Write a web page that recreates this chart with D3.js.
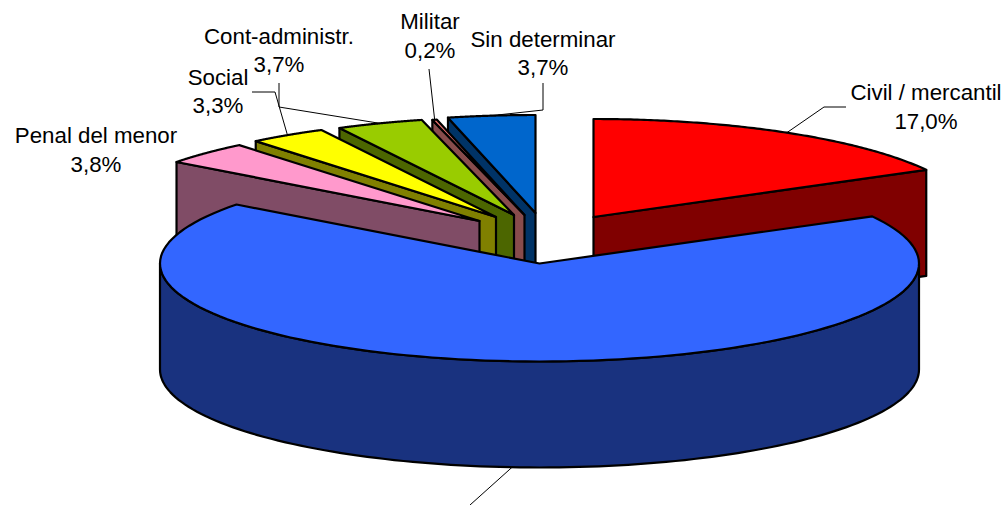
<!DOCTYPE html>
<html><head><meta charset="utf-8">
<style>html,body{margin:0;padding:0;background:#fff}svg{display:block}text{font-family:"Liberation Sans",Arial,sans-serif;font-size:22.3px;fill:#000;text-anchor:middle}</style>
<script src="https://cdn.jsdelivr.net/npm/d3@7"></script></head><body>
<script>
// Data (clockwise from 12 o'clock)
const categories = ["Civil / mercantil","Penal","Penal del menor","Social","Cont-administr.","Militar","Sin determinar"];
const values = [17.0,68.2,3.8,3.3,3.7,0.2,3.7];
const valueLabels = ["17,0%","68,2%","3,8%","3,3%","3,7%","0,2%","3,7%"];
// Styles
const topColors = ["#FF0000","#3366FF","#FF99CC","#FFFF00","#99CC00","#F07070","#0066CC"];
const sideColors = ["#800000","#19327F","#804C66","#808000","#4C6600","#884C4C","#003366"];
// Layout: ellipse and exploded slice apex for each slice
const W=1007,H=505,RX=379.5,RY=98,DEPTH=106;
const apexX=[593.5,539.5,479.5,496,514,524.5,535.5];
const apexY=[217,263.5,221,217,215,215,213];
// Label layout: text centre, two baselines; leader elbows
const labelX=[926,null,96,218,279,430,543];
const labelY=[100,null,143,85,44,29,47];
const valueY=[129,null,172,113,72,58,75];
const elbows=[[[824,107],[846,107]],[[470,505]],null,[[275,92],[252,92]],[[279,107],[279,83]],[[429,69]],[[543,110],[543,83]]];

const svg=d3.select("body").append("svg").attr("width",W).attr("height",H);
const pie=d3.pie().sort(null).value(d=>d);
const arcs=pie(values);
const line=d3.line();
const pt=(i,a,dz=0)=>[apexX[i]+RX*Math.sin(a),apexY[i]-RY*Math.cos(a)+dz];
const rim=(i,a0,a1,dz=0)=>d3.range(0,121).map(k=>pt(i,a0+(a1-a0)*k/120,dz));
const draw=(d,fill)=>svg.append("path").attr("d",d).attr("fill",fill).attr("stroke","#000").attr("stroke-width",2.2).attr("stroke-linejoin","round");

function slice(i){
  const a=arcs[i], apex=[apexX[i],apexY[i]];
  const edge=i===0?a.endAngle:a.startAngle;
  draw(line([pt(i,edge),apex,[apex[0],apex[1]+DEPTH],pt(i,edge,DEPTH)])+"Z",sideColors[i]);
  draw(line([apex,...rim(i,a.startAngle,a.endAngle)])+"Z",topColors[i]);
}
// Painter's order: back slices first, the big front slice last
[0,6,5,4,3,2].forEach(slice);
// Big slice wall, then top
const big=arcs[1];
draw(line([...rim(1,Math.PI/2,Math.PI*1.5),...rim(1,Math.PI*1.5,Math.PI/2,DEPTH)])+"Z",sideColors[1]);
draw(line([[apexX[1],apexY[1]],...rim(1,big.startAngle,big.endAngle)])+"Z",topColors[1]);

// Leader lines and labels
arcs.forEach((a,i)=>{
  if(!elbows[i])return;
  const mid=(a.startAngle+a.endAngle)/2;
  const start=pt(i,mid,i===1?DEPTH:0);
  svg.append("path").attr("d",line([start,...elbows[i]])).attr("fill","none").attr("stroke","#000").attr("stroke-width",1);
});
categories.forEach((c,i)=>{
  if(labelX[i]==null)return;
  svg.append("text").attr("x",labelX[i]).attr("y",labelY[i]).text(c);
  svg.append("text").attr("x",labelX[i]).attr("y",valueY[i]).text(valueLabels[i]);
});
</script></body></html>
